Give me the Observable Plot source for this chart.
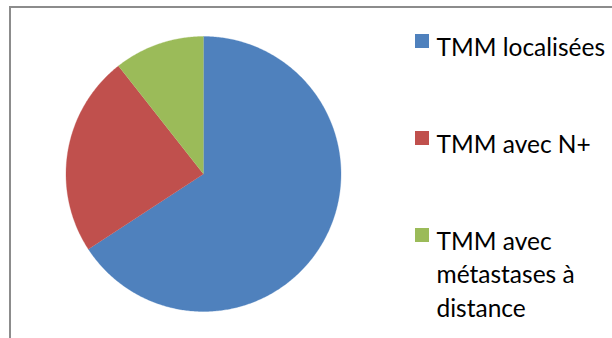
<!DOCTYPE html>
<html>
<head>
<meta charset="utf-8">
<script src="https://cdn.jsdelivr.net/npm/d3@7"></script>
<script src="https://cdn.jsdelivr.net/npm/@observablehq/plot@0.6"></script>
<style>
  html, body { margin: 0; padding: 0; background: #fff; }
  #chart { position: relative; width: 612px; height: 338px; overflow: hidden; background: #fff; }
  #border { position: absolute; left: 9px; top: 6px; width: 700px; height: 400px;
            border: 2px solid #8c8c8c; box-sizing: border-box; }
  #chart svg { position: absolute; left: 0; top: 0; }
</style>
</head>
<body>
<div id="chart"><div id="border"></div></div>
<script>
// Répartition des TMM selon l'extension (parts en %)
const categories = ["TMM localisées", "TMM avec N+", "TMM avec\nmétastases à\ndistance"];
const shares = [65.8, 23.6, 10.6];
const colors = ["#4f81bd", "#c0504d", "#9bbb59"];

// Pie geometry in pixels
const cx = 203, cy = 173.5, r = 137.5;

// Angles from 12 o'clock, clockwise
const arcs = d3.pie().sort(null).value(d => d)(shares);

// Each slice as a closed outline: centre, then points along its arc
const slices = arcs.map((a, i) => {
  const steps = Math.max(2, Math.ceil((a.endAngle - a.startAngle) / 0.01));
  const pts = [{x: 0, y: 0}];
  for (let k = 0; k <= steps; k++) {
    const t = a.startAngle + (a.endAngle - a.startAngle) * k / steps;
    pts.push({x: Math.sin(t), y: Math.cos(t)});
  }
  return {name: categories[i], color: colors[i], pts};
});

const fontSize = 24.5;
const rowStep = 97;

const marks = [];
for (const s of slices) {
  marks.push(Plot.line(s.pts, {x: "x", y: "y", fill: s.color, stroke: s.color, strokeWidth: 0.3, curve: "linear"}));
}
categories.forEach((c, i) => {
  marks.push(Plot.dot([c], {
    frameAnchor: "top-left", dx: 421.5, dy: 40.5 + rowStep * i,
    symbol: "square", r: 7.9, fill: colors[i], stroke: "none"
  }));
  marks.push(Plot.text([c], {
    text: d => d, frameAnchor: "top-left", dx: 436, dy: 32 + rowStep * i,
    textAnchor: "start", lineAnchor: "top", lineHeight: 1.36,
    fontSize, fill: "#000"
  }));
});

const chart = Plot.plot({
  width: 612,
  height: 338,
  margin: 0,
  style: {background: "transparent", fontFamily: "Lato", overflow: "visible"},
  x: {domain: [-1, 1], range: [cx - r, cx + r], axis: null},
  y: {domain: [-1, 1], range: [cy + r, cy - r], axis: null},
  marks
});
document.getElementById("chart").appendChild(chart);
</script>
</body>
</html>
